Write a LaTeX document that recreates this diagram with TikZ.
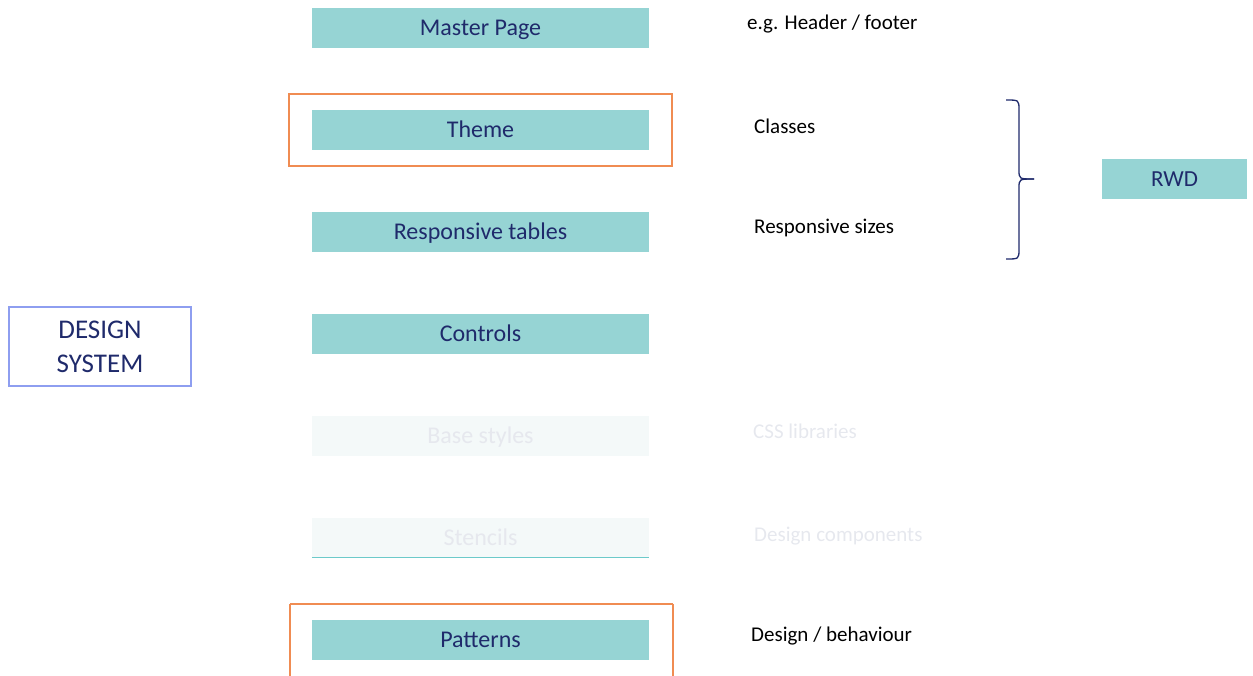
\documentclass[tikz,border=0pt]{standalone}
\usepackage{fontspec}
\setmainfont{Carlito}
\definecolor{tealbox}{HTML}{96D4D4}
\definecolor{navytxt}{HTML}{1F2A6B}
\definecolor{orangeframe}{HTML}{F08C52}
\definecolor{dsborder}{HTML}{8E9EF0}
\definecolor{fadefill}{HTML}{F4F9F9}
\definecolor{fadetxt}{HTML}{E6E8EE}
\definecolor{fadeline}{HTML}{6CCACA}
\tikzset{
  tealnode/.style={fill=tealbox, text=navytxt, minimum width=337pt, minimum height=40pt,
    inner sep=0pt, font=\fontsize{24}{28}\selectfont, text height=15.5pt, text depth=0pt},
  fadenode/.style={tealnode, fill=fadefill, text=fadetxt},
  note/.style={anchor=base west, inner sep=0pt, text=black, font=\fontsize{21}{25}\selectfont},
  fadenote/.style={note, text=fadetxt},
  frame/.style={draw=orangeframe, line width=2pt},
  bracepath/.style={draw=navytxt, line width=1.3pt},
}
\begin{document}
\begin{tikzpicture}[x=1pt,y=-1pt]
\useasboundingbox (0,0) rectangle (1253,675);
% orange frames
\draw[frame] (289,94) rectangle (672,166);
\draw[frame] (290,604) -- (673,604);
\draw[frame] (290,604) -- (290,676);
\draw[frame] (673,604) -- (673,676);
% main boxes
\node[tealnode] (master) at (480.5,27.5) {Master Page};
\node[tealnode] (theme) at (480.5,129.5) {Theme};
\node[tealnode] (resp) at (480.5,232) {Responsive tables};
\node[tealnode] (controls) at (480.5,334) {Controls};
\node[fadenode] (base) at (480.5,436) {Base styles};
\node[fadenode] (stencils) at (480.5,537.5) {Stencils};
\draw[draw=fadeline, line width=1.5pt] (stencils.south west) -- (stencils.south east);
\node[tealnode] (patterns) at (480.5,640) {Patterns};
% design system
\node[draw=dsborder, line width=1.3pt, minimum width=182pt, minimum height=79pt, align=center,
  text=navytxt, font=\fontsize{27}{34}\selectfont, inner sep=0pt] (ds) at (100,346.5) {DESIGN\\SYSTEM};
% notes
\node[note] (n1) at (747,29) {e.g. Header / footer};
\node[note] (n2) at (754,133) {Classes};
\node[note] (n3) at (754,233) {Responsive sizes};
\node[fadenote] (n4) at (753,438) {CSS libraries};
\node[fadenote] (n5) at (754,541) {Design components};
\node[note] (n6) at (751,641) {Design / behaviour};
% brace
\coordinate (btop) at (1006,100);
\coordinate (bbot) at (1006,259);
\coordinate (btip) at (1034,179);
\draw[bracepath] (btop) .. controls (1019,100) .. (1019,110) -- (1019,170) .. controls (1019,179) .. (btip);
\draw[bracepath] (bbot) .. controls (1019,259) .. (1019,249) -- (1019,188) .. controls (1019,179) .. (btip);
% RWD
\node[tealnode, minimum width=145pt, font=\fontsize{23}{27}\selectfont, text height=15pt] (rwd) at (1174.5,179) {RWD};
\end{tikzpicture}
\end{document}
